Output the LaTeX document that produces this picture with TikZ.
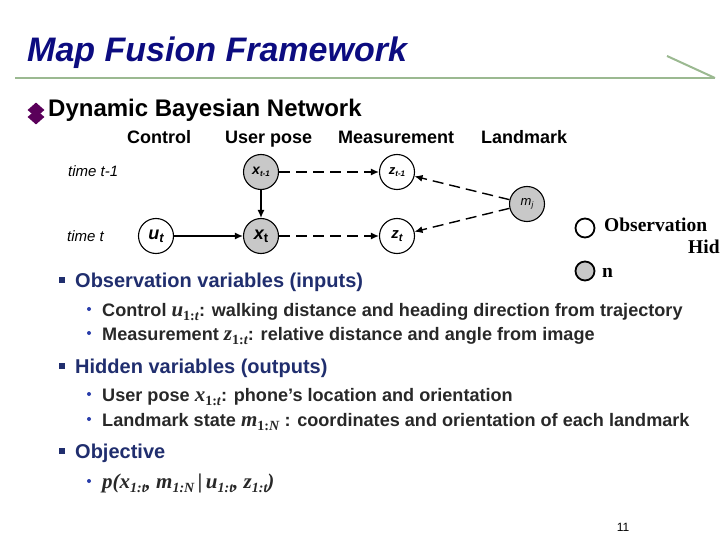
\documentclass[tikz,border=0pt]{standalone}
\usepackage{fontspec}
\setmainfont{Liberation Sans}
\newfontfamily\tnr{Liberation Serif}
\usetikzlibrary{arrows.meta,shapes.geometric}
\definecolor{titleblue}{RGB}{12,12,128}
\definecolor{navy}{RGB}{32,46,110}
\definecolor{subtext}{RGB}{40,40,40}
\definecolor{linegreen}{RGB}{155,185,145}
\definecolor{bulletpurple}{RGB}{90,0,90}
\definecolor{nodegray}{RGB}{200,200,200}
\definecolor{dotblue}{RGB}{40,60,170}
% math-like variable: #1 letter, #2 subscript body
\newcommand{\mvar}[2]{{\tnr\itshape\fontsize{21}{21}\selectfont #1}\raisebox{-4pt}{\tnr\fontsize{14}{14}\selectfont #2}}
\newcommand{\mvarb}[2]{{\tnr\bfseries\itshape\fontsize{21}{21}\selectfont #1}\raisebox{-4pt}{\tnr\bfseries\fontsize{14}{14}\selectfont #2}}
\tikzset{
  txt/.style={anchor=base west, inner sep=0pt},
  hdr/.style={txt, font=\fontsize{18}{20}\selectfont\bfseries, text=black},
  lvlone/.style={txt, font=\fontsize{20}{24}\selectfont\bfseries, text=navy},
  lvltwo/.style={txt, font=\fontsize{18.1}{20}\selectfont\bfseries, text=subtext},
  var/.style={circle, draw=black, line width=1.1pt, minimum size=35pt, inner sep=0pt},
  hid/.style={var, fill=nodegray},
  obs/.style={var, fill=white},
  arr/.style={line width=1.4pt, -{Latex[length=8pt,width=7pt]}},
  darr/.style={arr, dash pattern=on 11pt off 6pt},
  sqbullet/.style={fill=navy, minimum size=6pt, inner sep=0pt},
  dotbullet/.style={circle, fill=dotblue, minimum size=4pt, inner sep=0pt},
  dia/.style={diamond, fill=bulletpurple, minimum width=17pt, minimum height=15pt, inner sep=0pt},
}
\begin{document}
\begin{tikzpicture}[x=1pt,y=-1pt]
\useasboundingbox (0,0) rectangle (720,540);
% title
\node[txt, font=\fontsize{34}{38}\selectfont\bfseries\itshape, text=titleblue] (title) at (27,62) {Map Fusion Framework};
\draw[linegreen, line width=2pt] (15,78) -- (715,78);
\draw[linegreen, line width=2pt] (667,56) -- (715,78);
% diamond bullet
\node[dia] (d1) at (36,110) {};
\node[dia] (d2) at (36,117) {};
\node[txt, font=\fontsize{24}{28}\selectfont\bfseries] (dbn) at (48,117) {Dynamic Bayesian Network};
% headers
\node[hdr] (hc) at (127,144) {Control};
\node[hdr] (hu) at (225,144) {User pose};
\node[hdr] (hm) at (338,144) {Measurement};
\node[hdr] (hl) at (481,144) {Landmark};
\node[txt, font=\fontsize{15}{18}\selectfont\itshape] (t1) at (68,177) {time t-1};
\node[txt, font=\fontsize{15}{18}\selectfont\itshape] (t0) at (67,241) {time t};
% nodes
\node[hid] (xt1) at (261,172) {\fontsize{14}{14}\selectfont\bfseries\itshape x\raisebox{-2.5pt}{\fontsize{8}{8}\selectfont t-1}};
\node[obs] (zt1) at (397,172) {\fontsize{13}{13}\selectfont\bfseries\itshape z\raisebox{-2.5pt}{\fontsize{8}{8}\selectfont t-1}};
\node[hid] (mj) at (527,204) {\fontsize{13}{13}\selectfont\itshape m\raisebox{-2.5pt}{\fontsize{8}{8}\selectfont j}};
\node[obs] (ut) at (156,236) {\fontsize{18}{18}\selectfont\bfseries\itshape u\raisebox{-3pt}{\fontsize{13}{13}\selectfont t}};
\node[hid] (xt) at (261,236) {\fontsize{18}{18}\selectfont\bfseries\itshape x\raisebox{-3pt}{\fontsize{13}{13}\selectfont\upshape t}};
\node[obs] (zt) at (397,236) {\fontsize{15}{15}\selectfont\bfseries\itshape z\raisebox{-3pt}{\fontsize{11}{11}\selectfont t}};
% edges
\draw[arr] (xt1) -- (xt);
\draw[arr] (ut) -- (xt);
\draw[darr] (xt1) -- (zt1);
\draw[darr] (xt) -- (zt);
\draw[darr] (mj) -- (zt1);
\draw[darr] (mj) -- (zt);
% legend
\node[circle, draw=black, line width=1.8pt, fill=white, minimum size=19pt, inner sep=0pt] (lo) at (585,228) {};
\node[txt, font=\tnr\fontsize{19.5}{21}\selectfont\bfseries] (lot) at (604,231) {Observation};
\node[txt, font=\tnr\fontsize{19.5}{21}\selectfont\bfseries] (lht) at (688,254) {Hid};
\node[circle, draw=black, line width=1.8pt, fill=nodegray, minimum size=19pt, inner sep=0pt] (lh) at (585,271) {};
\node[txt, font=\tnr\fontsize{19.5}{21}\selectfont\bfseries] (lnt) at (602,277) {n};
% bullets
\node[sqbullet] (b1) at (62,280) {};
\node[lvlone] (ov) at (75,287) {Observation variables (inputs)};
\node[dotbullet] (s1) at (89,309) {};
\node[lvltwo] (ovc) at (102,316) {Control \mvar{u}{1:\textit{t}}: walking distance and heading direction from trajectory};
\node[dotbullet] (s2) at (89,333) {};
\node[lvltwo] (ovm) at (102,340) {Measurement \mvar{z}{1:\textit{t}}: relative distance and angle from image};
\node[sqbullet] (b2) at (62,366) {};
\node[lvlone] (hv) at (75,373) {Hidden variables (outputs)};
\node[dotbullet] (s3) at (89,394) {};
\node[lvltwo] (hvu) at (102,401) {User pose \mvar{x}{1:\textit{t}}: phone’s location and orientation};
\node[dotbullet] (s4) at (89,419) {};
\node[lvltwo] (hvl) at (102,426) {Landmark state \mvarb{m}{1:\textit{N}} : coordinates and orientation of each landmark};
\node[sqbullet] (b3) at (62,451) {};
\node[lvlone] (obj) at (75,458) {Objective};
\node[dotbullet] (s5) at (89,481) {};
\node[lvltwo] (objf) at (102,488) {\tnr\bfseries\itshape\fontsize{21}{21}\selectfont p(\mvarb{x}{1:\textit{t}}, \mvarb{m}{1:\textit{N}}\,|\,\mvarb{u}{1:\textit{t}}, \mvarb{z}{1:\textit{t}})};
% page number
\node[inner sep=0pt, font=\fontsize{12}{14}\selectfont] (pg) at (623,527) {11};
\end{tikzpicture}
\end{document}
